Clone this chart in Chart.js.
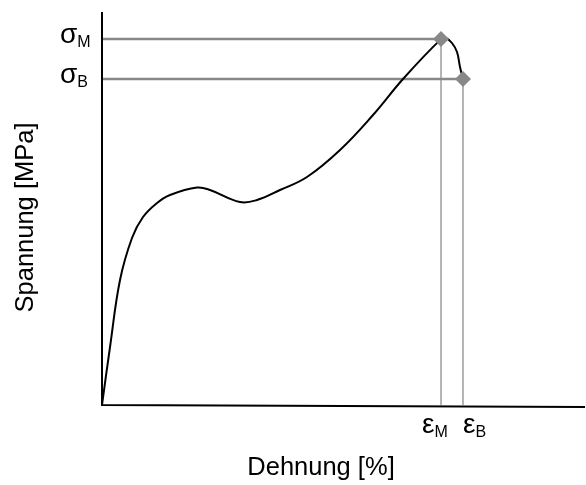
<!DOCTYPE html>
<html lang="de">
<head>
<meta charset="utf-8">
<title>Spannung-Dehnung</title>
<style>
  body { margin: 0; background: #fff; overflow: hidden; }
</style>
</head>
<body>
<canvas id="myChart" width="586" height="485"></canvas>
<script src="https://cdn.jsdelivr.net/npm/chart.js"></script>
<script>
// curve (strain / stress in relative units)
const strain = [0, 1.66, 3.73, 6.21, 8.49, 11.39, 14.08, 19.67, 22.36, 28.57, 32.09, 36.85, 42.44, 49.28, 56.11, 62.32, 70.19, 71.22, 72.46, 73.5, 74.12, 74.74];
const stress = [0, 14.76, 31.81, 42.49, 47.84, 51.4, 53.44, 55.34, 54.71, 51.65, 52.16, 54.71, 58.02, 64.89, 73.79, 82.95, 93.1, 93.4, 92.11, 89.82, 86.01, 82.95];

// characteristic points
const sigmaM = 93.1, sigmaB = 82.95;
const epsM = 70.19, epsB = 74.74;
const yLabels = [['σ', 'M', sigmaM], ['σ', 'B', sigmaB]];
const xLabels = [['ε', 'M', epsM, -19], ['ε', 'B', epsB, 0]];

const curve = strain.map((x, i) => ({x: x, y: stress[i]}));

const labelPlugin = {
  id: 'labels',
  afterDraw(chart) {
    const ctx = chart.ctx;
    const xs = chart.scales.x, ys = chart.scales.y;
    const a = chart.chartArea;
    ctx.save();
    // axes
    ctx.strokeStyle = '#000';
    ctx.lineWidth = 2;
    ctx.beginPath();
    ctx.moveTo(a.left, a.top);
    ctx.lineTo(a.left, a.bottom);
    ctx.lineTo(a.right, a.bottom + 2);
    ctx.stroke();

    ctx.fillStyle = '#000';
    ctx.textBaseline = 'alphabetic';
    ctx.textAlign = 'left';
    yLabels.forEach(l => {
      const py = ys.getPixelForValue(l[2]);
      ctx.font = '28px "Liberation Sans", Arial, sans-serif';
      ctx.fillText(l[0], 60, py + 4);
      const w = ctx.measureText(l[0]).width;
      ctx.font = '16px "Liberation Sans", Arial, sans-serif';
      ctx.fillText(l[1], 60 + w, py + 8);
    });
    xLabels.forEach(l => {
      const px = xs.getPixelForValue(l[2]) + l[3];
      ctx.font = '28px "Liberation Sans", Arial, sans-serif';
      ctx.fillText(l[0], px, 433);
      const w = ctx.measureText(l[0]).width;
      ctx.font = '16px "Liberation Sans", Arial, sans-serif';
      ctx.fillText(l[1], px + w, 437);
    });

    // axis titles
    ctx.font = '25.5px "Liberation Sans", Arial, sans-serif';
    ctx.textAlign = 'center';
    ctx.fillText('Dehnung [%]', 321, 475);
    ctx.translate(33, 217.5);
    ctx.rotate(-Math.PI / 2);
    ctx.fillText('Spannung [MPa]', 0, 0);
    ctx.restore();
  }
};

new Chart(document.getElementById('myChart'), {
  type: 'line',
  data: {
    datasets: [
      {
        data: curve,
        borderColor: '#000',
        borderWidth: 2,
        pointRadius: 0,
        tension: 0.4,
        order: 1
      },
      {
        data: [{x: 0, y: sigmaM}, {x: epsM, y: sigmaM}],
        borderColor: '#888',
        borderWidth: 2.5,
        pointRadius: 0,
        order: 2
      },
      {
        data: [{x: 0, y: sigmaB}, {x: epsB, y: sigmaB}],
        borderColor: '#888',
        borderWidth: 2.5,
        pointRadius: 0,
        order: 2
      },
      {
        data: [{x: epsM, y: sigmaM}, {x: epsM, y: 0}],
        borderColor: '#aaa',
        borderWidth: 1,
        pointRadius: 0,
        order: 3
      },
      {
        data: [{x: epsB, y: sigmaB}, {x: epsB, y: 0}],
        borderColor: '#aaa',
        borderWidth: 1,
        pointRadius: 0,
        order: 3
      },
      {
        data: [{x: epsM, y: sigmaM}, {x: epsB, y: sigmaB}],
        showLine: false,
        pointStyle: 'rectRot',
        pointRadius: 8,
        pointBackgroundColor: '#888',
        pointBorderColor: '#888',
        pointBorderWidth: 0,
        clip: false,
        order: 0
      }
    ]
  },
  options: {
    responsive: false,
    animation: false,
    layout: { autoPadding: false, padding: { left: 102, right: 1, top: 12, bottom: 80 } },
    plugins: { legend: { display: false }, tooltip: { enabled: false } },
    scales: {
      x: { type: 'linear', min: 0, max: 100, display: false },
      y: { type: 'linear', min: 0, max: 100, display: false }
    }
  },
  plugins: [labelPlugin]
});
</script>
</body>
</html>
